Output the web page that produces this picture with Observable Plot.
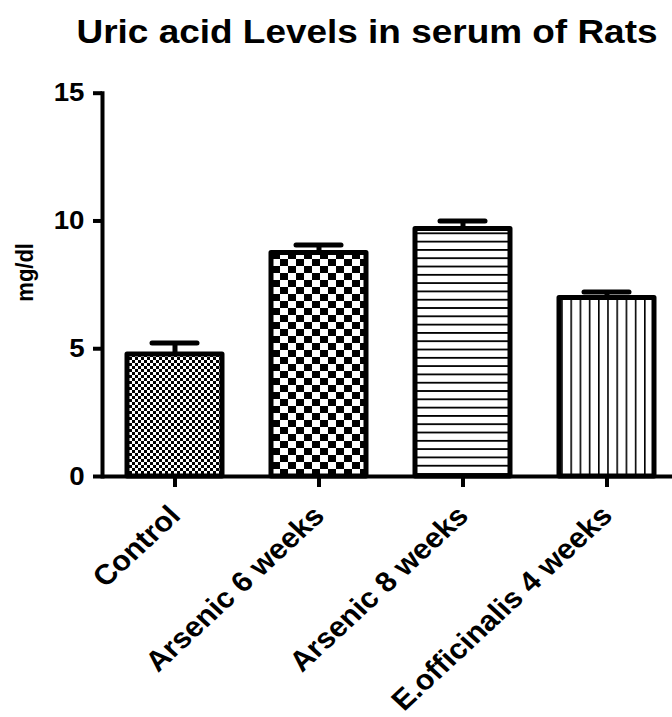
<!DOCTYPE html>
<html>
<head>
<meta charset="utf-8">
<script src="https://cdn.jsdelivr.net/npm/d3@7"></script>
<script src="https://cdn.jsdelivr.net/npm/@observablehq/plot@0.6"></script>
<style>
  html, body { margin: 0; padding: 0; background: #fff; }
</style>
</head>
<body>
<div id="chart"></div>
<script>
// ---- data ----
const titleText = "Uric acid Levels in serum of Rats";
const yLabel = "mg/dl";
const categories = ["Control", "Arsenic 6 weeks", "Arsenic 8 weeks", "E.officinalis 4 weeks"];
const means = [4.77, 8.75, 9.69, 6.99];
const sems = [0.45, 0.31, 0.31, 0.23];
const yTicks = [0, 5, 10, 15];

const data = categories.map((c, i) => ({cat: c, mean: means[i], sem: sems[i], pat: `url(#pat${i})`}));

const W = 672, H = 717;
const font = "'Liberation Sans', Arial, Helvetica, sans-serif";

const barMarks = data.map(d =>
  Plot.barY([d], {x: "cat", y: "mean", fill: d.pat, stroke: "#000", strokeWidth: 5, strokeLinejoin: "round"})
);

const chart = Plot.plot({
  width: W,
  height: H,
  marginLeft: 102,
  marginRight: 0,
  marginTop: 92.7,
  marginBottom: 241,
  style: {fontFamily: font, color: "#000", background: "#fff", overflow: "visible"},
  x: {type: "band", domain: categories, range: [97, 683], paddingInner: 0.342, paddingOuter: 0.2, label: null, axis: null},
  y: {domain: [0, 15], label: null, axis: null},
  marks: [
    ...barMarks,
    Plot.ruleX(data, {x: "cat", y1: "mean", y2: d => d.mean + d.sem, stroke: "#000", strokeWidth: 5}),
    Plot.tickY(data, {x: "cat", y: d => d.mean + d.sem, stroke: "#000", strokeWidth: 5, strokeLinecap: "round", insetLeft: 25, insetRight: 25}),
    Plot.ruleY([0], {stroke: "#000", strokeWidth: 4}),
    Plot.frame({anchor: "left", stroke: "#000", strokeWidth: 4}),
    Plot.axisY({ticks: yTicks, tickSize: 9, tickPadding: 9, strokeWidth: 4, fontSize: 25.6, fontWeight: "bold", label: null, tickFormat: d => d}),
    Plot.axisX({tickSize: 11, strokeWidth: 4, tickFormat: () => "", label: null}),
    Plot.text(data, {x: "cat", frameAnchor: "bottom", text: "cat", rotate: -45, textAnchor: "end", lineAnchor: "bottom", dx: 7, dy: 41, fontSize: 28.3, fontWeight: "bold", fill: "#000"}),
    Plot.text([yLabel], {text: d => d, frameAnchor: "left", rotate: -90, textAnchor: "middle", lineAnchor: "bottom", dx: -70, dy: -12.5, fontSize: 22, fontWeight: "bold", fill: "#000"}),
    Plot.text([titleText], {text: d => d, frameAnchor: "top", textAnchor: "middle", lineAnchor: "bottom", dx: 366.5 - 387, dy: 43 - 92.7, fontSize: 33, fontWeight: "bold", fill: "#000"})
  ]
});

// pattern definitions
const svg = d3.select(chart);
const defs = svg.insert("defs", ":first-child");
// fine checkerboard
let p = defs.append("pattern").attr("id", "pat0").attr("patternUnits", "userSpaceOnUse").attr("width", 6).attr("height", 6);
p.append("rect").attr("width", 6).attr("height", 6).attr("fill", "#fff");
p.append("rect").attr("x", 0).attr("y", 0).attr("width", 3).attr("height", 3).attr("fill", "#000");
p.append("rect").attr("x", 3).attr("y", 3).attr("width", 3).attr("height", 3).attr("fill", "#000");
// big checkerboard
p = defs.append("pattern").attr("id", "pat1").attr("patternUnits", "userSpaceOnUse").attr("width", 16).attr("height", 14);
p.append("rect").attr("width", 16).attr("height", 14).attr("fill", "#fff");
p.append("rect").attr("x", 0).attr("y", 0).attr("width", 8).attr("height", 7).attr("fill", "#000");
p.append("rect").attr("x", 8).attr("y", 7).attr("width", 8).attr("height", 7).attr("fill", "#000");
// horizontal lines
p = defs.append("pattern").attr("id", "pat2").attr("patternUnits", "userSpaceOnUse").attr("width", 10).attr("height", 8.3);
p.append("rect").attr("width", 10).attr("height", 8.3).attr("fill", "#fff");
p.append("rect").attr("x", 0).attr("y", 0).attr("width", 10).attr("height", 1.8).attr("fill", "#000");
// vertical lines
p = defs.append("pattern").attr("id", "pat3").attr("patternUnits", "userSpaceOnUse").attr("width", 9.2).attr("height", 10);
p.append("rect").attr("width", 9.2).attr("height", 10).attr("fill", "#fff");
p.append("rect").attr("x", 0).attr("y", 0).attr("width", 1.6).attr("height", 10).attr("fill", "#000");

// the reference's lettering is a little wide: widen texts horizontally about their anchors
function stretch(sel, s) {
  sel.each(function() {
    const t = this.getAttribute("transform");
    const m = t && t.match(/^\s*translate\(\s*([-\d.e]+)[,\s]+([-\d.e]+)\s*\)(.*)$/);
    if (m) this.setAttribute("transform", `translate(${m[1]},${m[2]}) scale(${s},1)${m[3]}`);
  });
}
const texts = svg.selectAll("text");
stretch(texts.filter(function() { return this.textContent === titleText; }), 1.12);
stretch(texts.filter(function() { return categories.includes(this.textContent); }), 1.08);
stretch(texts.filter(function() { return /^\d+$/.test(this.textContent); }), 1.08);
stretch(texts.filter(function() { return this.textContent === yLabel; }), 1.08);

document.getElementById("chart").appendChild(chart);
</script>
</body>
</html>
